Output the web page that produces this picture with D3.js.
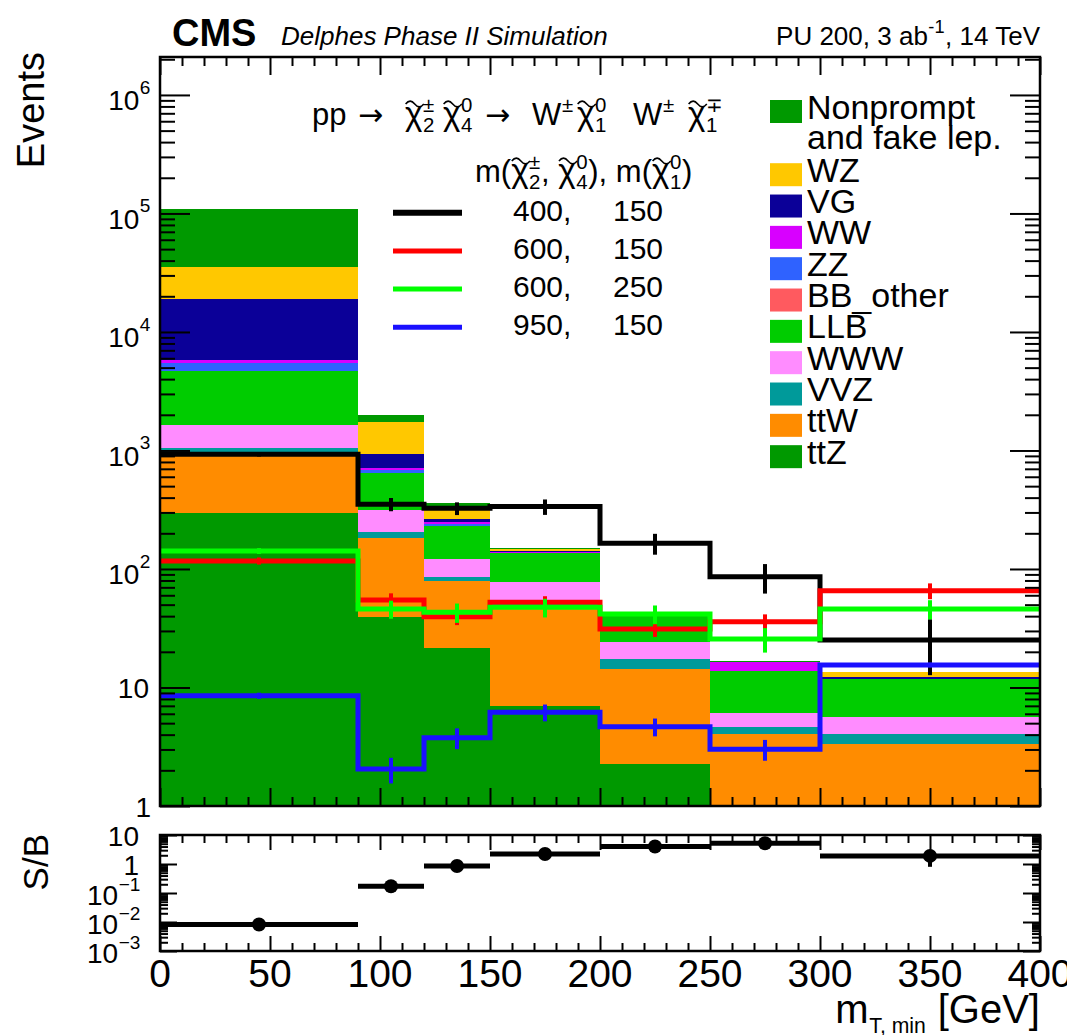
<!DOCTYPE html>
<html>
<head>
<meta charset="utf-8">
<script src="https://cdn.jsdelivr.net/npm/d3@7"></script>
<style>
  body { margin: 0; background: #fff; }
  svg { display: block; }
  text { font-family: "Liberation Sans", Arial, Helvetica, sans-serif; fill: #000; white-space: pre; }
</style>
</head>
<body>
<svg id="chart" width="1067" height="1035"></svg>
<script>
// ---- data -------------------------------------------------------------
const binEdges = [0, 90, 120, 150, 200, 250, 300, 400];

// background processes, legend order (top of stack first)
const processNames = ["Nonprompt", "WZ", "VG", "WW", "ZZ", "BB_other", "LLB", "WWW", "VVZ", "ttW", "ttZ"];
const processColors = ["#009900", "#ffc800", "#0b0098", "#d800ff", "#2f62ff", "#ff5a5f",
                       "#00cc00", "#ff8cff", "#009a9a", "#ff8c00", "#009900"];

// expected events per m_T,min bin
const nonprompt = [74800, 240, 22, 3, 0.3, 0.3, 0];
const wz        = [16300, 815, 73, 5, 0.5, 0, 1.1];
const vg        = [13100, 219, 12, 3, 0.3, 0, 0.56];
const ww        = [290, 32, 11, 2, 0.5, 2.5, 0];
const zz        = [820, 34, 8, 1, 0.3, 0, 0];
const bbOther   = [3, 0.5, 0.2, 0.1, 0, 0, 0];
const llb       = [3060, 335, 111, 58.8, 15.8, 7.84, 6.14];
const www       = [573, 111, 35.9, 22.4, 6.9, 1.44, 1.55];
const vvz       = [80, 22, 5.9, 5.1, 2.9, 0.57, 0.71];
const ttw       = [678, 142, 57.8, 42.7, 12.2, 4.05, 3.34];
const ttz       = [299, 39.6, 21.4, 7.0, 2.26, 0, 0];

// signal mass points: m(chi2+-, chi4^0), m(chi1^0)
const signalMasses = [["400,", "150"], ["600,", "150"], ["600,", "250"], ["950,", "150"]];
const signalColors = ["#000000", "#ff0000", "#00ff00", "#1a10ff"];
const sig400_150 = [929, 352, 325, 336, 165, 86, 25.2];
const sig600_150 = [117, 54.8, 39.6, 52.4, 31.2, 35.9, 65.6];
const sig600_250 = [142, 46, 43.1, 47.5, 41.7, 25.7, 46];
const sig950_150 = [8.53, 2.05, 3.77, 6.18, 4.67, 3.01, 15.5];
const err400_150 = [40, 45, 40, 50, 33, 24, 12.5];
const err600_150 = [8, 7.5, 6, 6.5, 4.5, 5.5, 10];
const err600_250 = [8, 8, 8, 8.5, 7.5, 6, 8.5];
const err950_150 = [0.5, 0.5, 0.75, 1.0, 0.8, 0.6, 0.7];

// signal (400,150) over background
const sOverB    = [0.0082, 0.17, 0.85, 2.2, 4.0, 5.2, 1.9];
const sOverBErr = [0.0003, 0.02, 0.1, 0.4, 1.0, 2.0, 1.1];

// axis ticks
const xTicks = [0, 50, 100, 150, 200, 250, 300, 350, 400];
const yDecades = [1, 10, 100, 1e3, 1e4, 1e5, 1e6];
const yDecadeExp = [null, null, "2", "3", "4", "5", "6"];
const rDecades = [1e-3, 1e-2, 1e-1, 1, 10];
const rDecadeLabels = [["10", "\u22123"], ["10", "\u22122"], ["10", "\u22121"], ["1", null], ["10", null]];

// ---- layout -------------------------------------------------------------
const svg = d3.select("#chart");
const X0 = 160, X1 = 1040;
const Y0 = 57, Y1 = 806;     // main pad frame
const R0 = 835, R1 = 951;    // ratio pad frame

const x = d3.scaleLinear().domain([0, 400]).range([X0, X1]);
const y = d3.scaleLog().domain([1, 2.09e6]).range([Y1, Y0]).clamp(true);
const yr = d3.scaleLog().domain([1e-3, 10]).range([R1, R0]).clamp(true);

// ---- rich text helper (super/subscripts, tilde accents) ------------------
// parts: plain strings, or {t, tilde, sup, sub, at, font, size}
function rich(parent, px, py, fs, parts, anchor = "start") {
  const g = parent.append("g");
  let cx = 0;
  const put = (str, size, dy, at, font) => {
    const t = g.append("text").attr("x", at).attr("y", dy).attr("font-size", size).text(str);
    if (font) t.style("font-family", font);
    return t.node().getComputedTextLength();
  };
  parts.forEach(p => {
    if (typeof p === "string") { cx += put(p, fs, 0, cx); return; }
    if (p.at !== undefined) cx = p.at - px;
    let w = 0;
    if (p.t) {
      w = put(p.t, p.size || fs, 0, cx, p.font);
      if (p.tilde) {
        const tw = w * 1.05, h = fs * 0.09, ty = -fs * 0.68, tx = cx + fs * 0.02;
        g.append("path")
          .attr("d", `M${tx},${ty} q${tw / 4},${-h * 2} ${tw / 2},0 t${tw / 2},0`)
          .attr("fill", "none").attr("stroke", "#000").attr("stroke-width", fs * 0.05);
      }
    }
    const base = cx + w;
    let ws = 0, wb = 0;
    const ss = fs * (p.scale || 0.66);
    if (p.sup) ws = put(p.sup, ss, -fs * (p.raise || 0.42), base + fs * 0.02);
    if (p.sub) wb = put(p.sub, ss, fs * (p.lower || 0.24), base + fs * 0.02);
    cx = base + ((ws || wb) ? Math.max(ws, wb) + fs * 0.04 : 0);
  });
  const off = anchor === "end" ? -cx : anchor === "middle" ? -cx / 2 : 0;
  g.attr("transform", `translate(${px + off},${py})`);
  return cx;
}

// ---- stacked backgrounds ----------------------------------------------
const seriesByName = {
  Nonprompt: nonprompt, WZ: wz, VG: vg, WW: ww, ZZ: zz, BB_other: bbOther,
  LLB: llb, WWW: www, VVZ: vvz, ttW: ttw, ttZ: ttz
};
const rows = binEdges.slice(0, -1).map((lo, i) => {
  const r = { lo, hi: binEdges[i + 1] };
  processNames.forEach(n => { r[n] = seriesByName[n][i]; });
  return r;
});
const stackKeys = processNames.slice().reverse();           // ttZ at the bottom
const stacked = d3.stack().keys(stackKeys)(rows);
const colorOf = d3.scaleOrdinal().domain(processNames).range(processColors);

const gStack = svg.append("g");
stacked.forEach(layer => {
  gStack.append("g").attr("fill", colorOf(layer.key))
    .selectAll("rect").data(layer.filter(d => d[1] - d[0] > 0)).join("rect")
    .attr("x", d => x(d.data.lo))
    .attr("width", d => x(d.data.hi) - x(d.data.lo))
    .attr("y", d => y(d[1]))
    .attr("height", d => Math.max(0, y(d[0] > 0 ? d[0] : 1e-9) - y(d[1])))
    .attr("shape-rendering", "crispEdges");
});

// ---- signal histograms --------------------------------------------------
const signals = [sig400_150, sig600_150, sig600_250, sig950_150];
const signalErrs = [err400_150, err600_150, err600_250, err950_150];
const gSig = svg.append("g");
signals.forEach((vals, k) => {
  let d = `M${x(binEdges[0])},${y(vals[0])}`;
  vals.forEach((v, i) => {
    if (i > 0) d += `V${y(v)}`;
    d += `H${x(binEdges[i + 1])}`;
  });
  gSig.append("path").attr("d", d).attr("fill", "none")
    .attr("stroke", signalColors[k]).attr("stroke-width", 5).attr("stroke-linejoin", "miter");
  gSig.append("g").selectAll("line").data(vals).join("line")
    .attr("x1", (v, i) => x((binEdges[i] + binEdges[i + 1]) / 2))
    .attr("x2", (v, i) => x((binEdges[i] + binEdges[i + 1]) / 2))
    .attr("y1", (v, i) => y(v + signalErrs[k][i]))
    .attr("y2", (v, i) => y(Math.max(v - signalErrs[k][i], 1e-6)))
    .attr("stroke", signalColors[k]).attr("stroke-width", 4);
});

// ---- axes (ticks inside the frame, mirrored on all sides) -------------
const minorLog = (lo, hi) => {
  const out = [];
  for (let e = Math.floor(Math.log10(lo)); e <= Math.ceil(Math.log10(hi)); e++) {
    for (let m = 2; m <= 9; m++) {
      const v = m * Math.pow(10, e);
      if (v > lo && v < hi) out.push(v);
    }
  }
  return out;
};
const xMinor = d3.range(0, 401, 10).filter(v => v % 50 !== 0);
const tickAxis = (gen, scale, vals, size, tx, ty) => {
  const g = svg.append("g").attr("transform", `translate(${tx},${ty})`)
    .call(gen(scale).tickValues(vals).tickSize(size).tickFormat(""));
  g.select(".domain").remove();
  g.selectAll("line").attr("stroke", "#000").attr("stroke-width", 2);
  return g;
};
// main pad
tickAxis(d3.axisBottom, x, xTicks, -18, 0, Y1);
tickAxis(d3.axisBottom, x, xMinor, -9, 0, Y1);
tickAxis(d3.axisTop, x, xTicks, -18, 0, Y0);
tickAxis(d3.axisTop, x, xMinor, -9, 0, Y0);
tickAxis(d3.axisLeft, y, yDecades, -30, X0, 0);
tickAxis(d3.axisLeft, y, minorLog(1, 2.09e6), -15, X0, 0);
tickAxis(d3.axisRight, y, yDecades, -30, X1, 0);
tickAxis(d3.axisRight, y, minorLog(1, 2.09e6), -15, X1, 0);
// ratio pad
tickAxis(d3.axisBottom, x, xTicks, -15, 0, R1);
tickAxis(d3.axisBottom, x, xMinor, -8, 0, R1);
tickAxis(d3.axisTop, x, xTicks, -15, 0, R0);
tickAxis(d3.axisTop, x, xMinor, -8, 0, R0);
tickAxis(d3.axisLeft, yr, rDecades, -17, X0, 0);
tickAxis(d3.axisLeft, yr, minorLog(1e-3, 10), -8, X0, 0);
tickAxis(d3.axisRight, yr, rDecades, -17, X1, 0);
tickAxis(d3.axisRight, yr, minorLog(1e-3, 10), -8, X1, 0);

// frames
svg.append("rect").attr("x", X0).attr("y", Y0).attr("width", X1 - X0).attr("height", Y1 - Y0)
  .attr("fill", "none").attr("stroke", "#000").attr("stroke-width", 2.5);
svg.append("rect").attr("x", X0).attr("y", R0).attr("width", X1 - X0).attr("height", R1 - R0)
  .attr("fill", "none").attr("stroke", "#000").attr("stroke-width", 2.5);

// main y tick labels
yDecades.forEach((v, i) => {
  if (v === 1) rich(svg, 151, y(v) + 10.5, 28, ["1"], "end");
  else if (v === 10) rich(svg, 149, y(v) + 10.5, 28, ["10"], "end");
  else rich(svg, 151, y(v) + 15.5, 28, [{ t: "10", sup: yDecadeExp[i], scale: 0.68, raise: 0.6 }], "end");
});

// ratio pad: y tick labels
rDecades.forEach((v, i) => {
  const [b, e] = rDecadeLabels[i];
  if (e) rich(svg, 141, yr(v) + 12, 28, [{ t: b, sup: e, scale: 0.68, raise: 0.5 }], "end");
  else rich(svg, 139, yr(v) + 11, 28, [b], "end");
});

// ratio pad: x tick labels
xTicks.forEach(v => {
  svg.append("text").attr("x", x(v)).attr("y", 987).attr("font-size", 39)
    .attr("text-anchor", "middle").text(v);
});

// S/B points
const centers = rows.map(r => (r.lo + r.hi) / 2);
const gR = svg.append("g");
gR.selectAll("line.h").data(rows).join("line")
  .attr("x1", d => x(d.lo)).attr("x2", d => x(d.hi))
  .attr("y1", (d, i) => yr(sOverB[i])).attr("y2", (d, i) => yr(sOverB[i]))
  .attr("stroke", "#000").attr("stroke-width", 5);
gR.selectAll("line.v").data(sOverB).join("line")
  .attr("x1", (d, i) => x(centers[i])).attr("x2", (d, i) => x(centers[i]))
  .attr("y1", (d, i) => yr(d + sOverBErr[i])).attr("y2", (d, i) => yr(Math.max(d - sOverBErr[i], 1e-4)))
  .attr("stroke", "#000").attr("stroke-width", 4);
gR.selectAll("circle").data(sOverB).join("circle")
  .attr("cx", (d, i) => x(centers[i])).attr("cy", d => yr(d)).attr("r", 7).attr("fill", "#000");

// axis titles
svg.append("text").attr("transform", "translate(44,52) rotate(-90)")
  .attr("text-anchor", "end").attr("font-size", 38).text("Events");
svg.append("text").attr("transform", "translate(48,834) rotate(-90)")
  .attr("text-anchor", "end").attr("font-size", 35).text("S/B");
rich(svg, 1040, 1023, 40, [{ t: "m", sub: "T, min", scale: 0.53, lower: 0.26 }, " [GeV]"], "end");

// header
svg.append("text").attr("x", 172).attr("y", 46).attr("font-size", 38)
  .attr("font-weight", "bold").text("CMS");
svg.append("text").attr("x", 281).attr("y", 45).attr("font-size", 26)
  .attr("font-style", "italic").text("Delphes Phase II Simulation");
rich(svg, 1040, 45, 26, ["PU 200, 3 ab", { sup: "-1", scale: 0.7, raise: 0.45 }, ", 14 TeV"], "end");

// ---- signal legend --------------------------------------------------------
const chi = (sup, sub, at) => ({ t: "\u03c7", tilde: true, sup, sub, at, size: 33 });
const arrow = at => ({ t: "\u2192", at, font: "DejaVu Sans", size: 30 });
rich(svg, 312, 125, 31, [
  "pp", arrow(358), chi("\u00b1", "2", 405), chi("0", "4", 443), arrow(485),
  { t: "W", sup: "\u00b1", at: 532 }, chi("0", "1", 577),
  { t: "W", sup: "\u00b1", at: 633 }, chi("\u2213", "1", 688)
]);
rich(svg, 475, 182, 31, [
  "m(", chi("\u00b1", "2"), ", ", chi("0", "4"), "), m(", chi("0", "1"), ")"
]);
const legY0 = 212.7, legDy = 38.2;
signalMasses.forEach((m, k) => {
  const ly = legY0 + k * legDy;
  svg.append("line").attr("x1", 393).attr("x2", 462).attr("y1", ly).attr("y2", ly)
    .attr("stroke", signalColors[k]).attr("stroke-width", k === 0 ? 6 : 5);
  svg.append("text").attr("x", 513).attr("y", ly + 8).attr("font-size", 30).text(m[0]);
  svg.append("text").attr("x", 613).attr("y", ly + 8).attr("font-size", 30).text(m[1]);
});

// ---- background legend ---------------------------------------------------
const legendLabels = processNames.map(n => n === "Nonprompt" ? ["Nonprompt", "and fake lep."] : [n]);
const rowCenter = i => i === 0 ? 111.5 : 174.7 + (i - 1) * 31.33;
processNames.forEach((n, i) => {
  const cy = rowCenter(i);
  svg.append("rect").attr("x", 770).attr("y", cy - 11.5).attr("width", 32).attr("height", 23)
    .attr("fill", processColors[i]);
  legendLabels[i].forEach((line, j) => {
    svg.append("text").attr("x", 807).attr("y", cy + 7 + j * 30).attr("font-size", 34).text(line);
  });
});
</script>
</body>
</html>
